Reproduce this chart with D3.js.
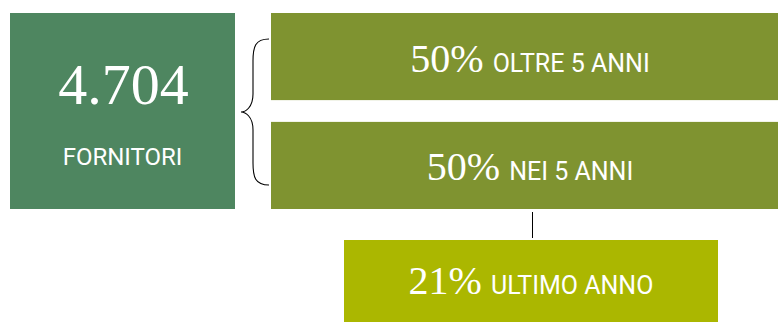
<!DOCTYPE html>
<html>
<head>
<meta charset="utf-8">
<script src="https://cdn.jsdelivr.net/npm/d3@7"></script>
<style>
  html, body { margin: 0; padding: 0; background: #fff; }
  svg { display: block; }
  .num { font-family: "Liberation Serif", "DejaVu Serif", serif; fill: #fff; }
  .lbl { font-family: Roboto, "Liberation Sans", sans-serif; fill: #fff; }
</style>
</head>
<body>
<svg id="chart" width="778" height="322"></svg>
<script>
// Supplier totals and seniority breakdown
const totalSuppliers = 4704;
const totalLabel = "FORNITORI";
const shareValues = [50, 50, 21];
const shareLabels = ["OLTRE 5 ANNI", "NEI 5 ANNI", "ULTIMO ANNO"];

const W = 778, H = 322;
const svg = d3.select("#chart");

const fmt = d3.formatLocale({ decimal: ",", thousands: ".", grouping: [3], currency: ["€", ""] }).format(",d");

// Left summary block
const box = { x: 10, y: 13, w: 225, h: 196 };
svg.append("rect").attr("x", box.x).attr("y", box.y).attr("width", box.w).attr("height", box.h)
  .attr("fill", "#4e8660");
svg.append("text").attr("class", "num")
  .attr("x", box.x + box.w / 2 + 1).attr("y", 104)
  .attr("text-anchor", "middle").attr("font-size", 58)
  .text(fmt(totalSuppliers));
svg.append("text").attr("class", "lbl")
  .attr("x", box.x + box.w / 2).attr("y", 165)
  .attr("text-anchor", "middle").attr("font-size", 24)
  .text(totalLabel);

// Vertical layout of the two upper share bars
const rows = d3.scaleBand().domain(d3.range(2)).range([13, 209]).paddingInner(0.2);

const bars = [
  { x: 271, w: 520, y: rows(0), h: rows.bandwidth(), fill: "#7f9330", cx: 530 },
  { x: 271, w: 520, y: rows(1), h: rows.bandwidth(), fill: "#7f9330", cx: 530 },
  { x: 344, w: 374, y: 240, h: 90, fill: "#abb700", cx: 531 }
];

const g = svg.selectAll("g.share").data(shareValues).join("g").attr("class", "share");
g.append("rect")
  .attr("x", (d, i) => bars[i].x).attr("y", (d, i) => bars[i].y)
  .attr("width", (d, i) => bars[i].w).attr("height", (d, i) => bars[i].h)
  .attr("fill", (d, i) => bars[i].fill);

const t = g.append("text")
  .attr("x", (d, i) => bars[i].cx)
  .attr("y", (d, i) => i < 2 ? bars[i].y + bars[i].h / 2 + 15 : 294)
  .attr("text-anchor", "middle");
t.append("tspan").attr("class", "num").attr("font-size", 40).text(d => d + "%");
t.append("tspan").attr("class", "lbl").attr("font-size", 25).attr("dx", 9)
  .text((d, i) => shareLabels[i]);

// Curly brace grouping the two upper bars
const bx = 269, bTop = 39, bBot = 185, bMid = 112, bIn = 253, bTip = 241;
const brace = d3.path();
brace.moveTo(bx, bTop);
brace.bezierCurveTo(bIn + 2, bTop, bIn, bTop + 8, bIn, bTop + 22);
brace.lineTo(bIn, bMid - 18);
brace.bezierCurveTo(bIn, bMid - 4, bTip + 4, bMid, bTip, bMid);
brace.bezierCurveTo(bTip + 4, bMid, bIn, bMid + 4, bIn, bMid + 18);
brace.lineTo(bIn, bBot - 22);
brace.bezierCurveTo(bIn, bBot - 8, bIn + 2, bBot, bx, bBot);
svg.append("path").attr("d", brace.toString())
  .attr("fill", "none").attr("stroke", "#000").attr("stroke-width", 1.1);

// Connector from the lower bar to the last-year block
svg.append("line").attr("x1", 532.5).attr("x2", 532.5).attr("y1", 212).attr("y2", 238)
  .attr("stroke", "#000").attr("stroke-width", 1);
</script>
</body>
</html>
